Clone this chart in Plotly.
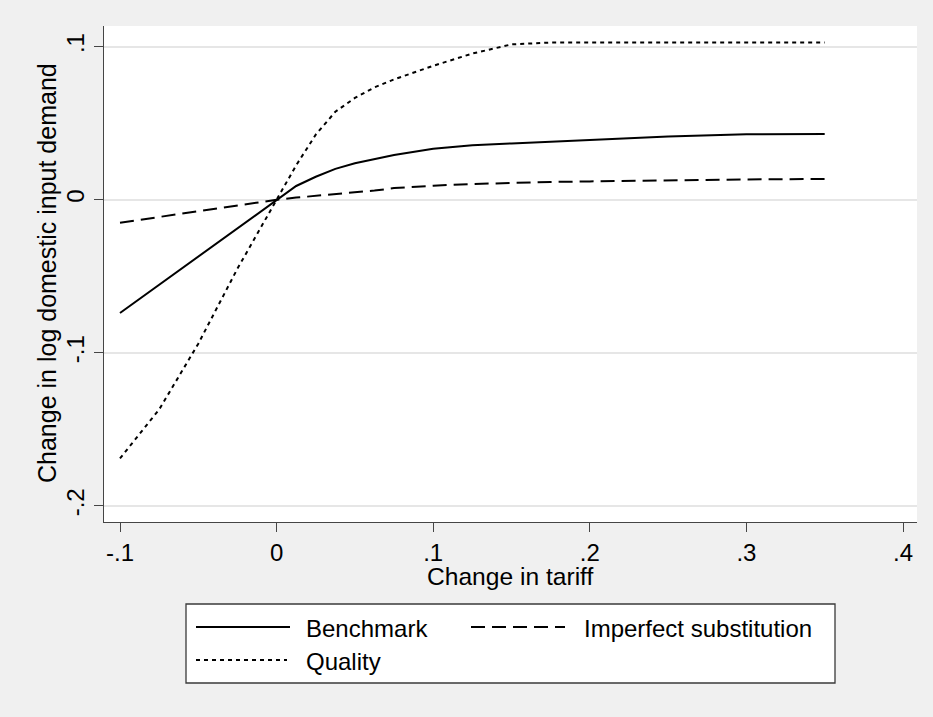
import plotly.graph_objects as go

# ---------------- data ----------------
tariff = [-0.1, -0.075, -0.05, -0.025, 0.0, 0.0125, 0.025, 0.0375, 0.05, 0.0625,
          0.075, 0.1, 0.125, 0.15, 0.175, 0.2, 0.25, 0.3, 0.35]
benchmark = [-0.074, -0.0556, -0.037, -0.0183, 0.0, 0.009, 0.015, 0.0202, 0.0238, 0.0268,
             0.0293, 0.0333, 0.0356, 0.0368, 0.0379, 0.039, 0.0413, 0.0428, 0.0429]
imperfect = [-0.015, -0.0112, -0.0075, -0.0037, 0.0, 0.0014, 0.0026, 0.0037, 0.0047, 0.006,
             0.0076, 0.0092, 0.0103, 0.0111, 0.0116, 0.012, 0.0128, 0.0133, 0.0136]
quality = [-0.169, -0.137, -0.094, -0.045, 0.0, 0.0225, 0.0425, 0.0575, 0.0665, 0.0734,
           0.0786, 0.0875, 0.0955, 0.1015, 0.1027, 0.1027, 0.1027, 0.1027, 0.1027]

series_names = ["Benchmark", "Imperfect substitution", "Quality"]
x_ticks = [-0.1, 0.0, 0.1, 0.2, 0.3, 0.4]
x_ticktext = ["-.1", "0", ".1", ".2", ".3", ".4"]
y_ticks = [-0.2, -0.1, 0.0, 0.1]
y_ticktext = ["-.2", "-.1", "0", ".1"]
x_title = "Change in tariff"
y_title = "Change in log domestic input demand"

# ---------------- layout geometry (pixels) ----------------
W, H = 933, 717
L, R, T, B = 104, 16, 26, 195
PW, PH = W - L - R, H - T - B
FONT = "Arial, Liberation Sans, sans-serif"
FS = 24
FS_TITLE = 24.6


def px(xp):
    return (xp - L) / PW


def py(yp):
    return (H - B - yp) / PH


DASH = "14px,7px"
DOT = "4px,4px"
styles = ["solid", DASH, DOT]

fig = go.Figure()
for name, ys, dash in zip(series_names, [benchmark, imperfect, quality], styles):
    fig.add_trace(go.Scatter(x=tariff, y=ys, mode="lines", name=name,
                             line=dict(color="black", width=2, dash=dash),
                             showlegend=False))

axis_col = "#454545"
fig.update_layout(
    width=W, height=H,
    margin=dict(l=L, r=R, t=T, b=B),
    paper_bgcolor="#F0F0F0",
    plot_bgcolor="white",
    font=dict(family=FONT, size=FS, color="black"),
    xaxis=dict(range=[-0.11022, 0.40894], tickvals=x_ticks, ticktext=x_ticktext,
               ticks="outside", ticklen=9, tickwidth=1.3, tickcolor=axis_col,
               showline=True, linecolor=axis_col, linewidth=1.3,
               showgrid=False, zeroline=False, ticklabelstandoff=0),
    yaxis=dict(range=[-0.2105, 0.1135], tickvals=y_ticks, ticktext=y_ticktext,
               tickangle=-90, ticks="outside", ticklen=9, tickwidth=1.3,
               tickcolor=axis_col, showline=True, linecolor=axis_col, linewidth=1.3,
               showgrid=True, gridcolor="#E6E6E6", gridwidth=2, zeroline=False),
)

annotations = [
    dict(text=x_title, x=px(510), y=py(576), xref="paper", yref="paper",
         xanchor="center", yanchor="middle", showarrow=False,
         font=dict(family=FONT, size=FS_TITLE, color="black")),
    dict(text=y_title, x=px(47), y=py(273), xref="paper", yref="paper",
         xanchor="center", yanchor="middle", showarrow=False, textangle=-90,
         font=dict(family=FONT, size=FS_TITLE + 0.4, color="black")),
]

# manual legend (Stata style box below the plot)
shapes = [dict(type="rect", xref="paper", yref="paper",
               x0=px(186), x1=px(835), y0=py(683), y1=py(604),
               line=dict(color="#3a3a3a", width=1.3), fillcolor="white", layer="above")]
legend_items = [
    (series_names[0], styles[0], 196, 290, 627, 304),
    (series_names[1], styles[1], 471, 565, 627, 582),
    (series_names[2], styles[2], 196, 287, 660, 304),
]
for name, dash, x0, x1, yy, tx in legend_items:
    shapes.append(dict(type="line", xref="paper", yref="paper",
                       x0=px(x0), x1=px(x1), y0=py(yy), y1=py(yy),
                       line=dict(color="black", width=2, dash=dash)))
    annotations.append(dict(text=name, x=px(tx), y=py(yy + 1), xref="paper", yref="paper",
                            xanchor="left", yanchor="middle", showarrow=False,
                            font=dict(family=FONT, size=FS, color="black")))

fig.update_layout(shapes=shapes, annotations=annotations)
fig.write_html("out.html", config={"displayModeBar": False},
               post_script="document.body.style.margin='0';")
